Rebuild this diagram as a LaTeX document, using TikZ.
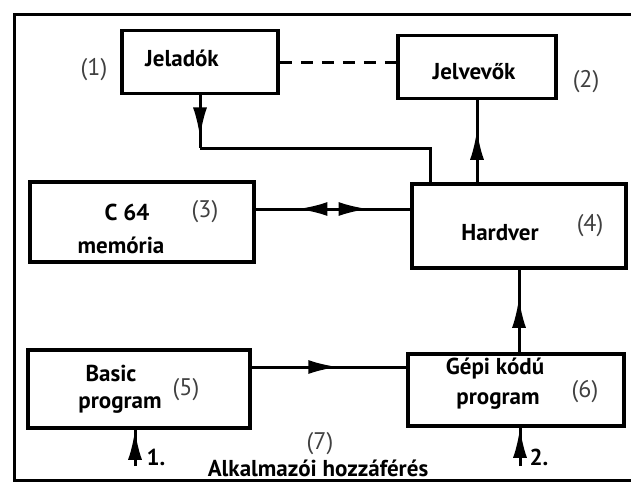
\documentclass[tikz,border=0pt]{standalone}
\usepackage{fontspec}
\setmainfont{PT Sans}
\usetikzlibrary{arrows.meta}
\usetikzlibrary{decorations.markings}
\usetikzlibrary{positioning}
\tikzset{->-/.style = {decoration={markings,
                                   mark=at position #1 with {\arrow{Latex[length=30pt,width=14pt]}}},
                       postaction={decorate}}}
\tikzset{block/.style = {draw, line width=3.6pt, inner sep=0pt},
         txt/.style = {font=\fontsize{23}{26}\selectfont\bfseries},
         num/.style = {font=\fontsize{24}{26}\selectfont, text=black!75}}

\begin{document}
\begin{tikzpicture}[x=1pt, y=-1pt, line width=3pt]
    \useasboundingbox (0,0) rectangle (631,493);
    \draw (631,14) -- (14,14) -- (14,480) -- (631,480);
    % blocks
    \node [block, minimum width=156pt, minimum height=63pt] (jeladok) at (200,62) {};
    \node [block, minimum width=158pt, minimum height=63pt] (jelvevok) at (477,67) {};
    \node [block, minimum width=224pt, minimum height=80pt] (memoria) at (142,222) {};
    \node [block, minimum width=214pt, minimum height=84pt] (hardver) at (519,226) {};
    \node [block, minimum width=222pt, minimum height=78pt] (basic) at (139,389) {};
    \node [block, minimum width=216pt, minimum height=72pt] (gepi) at (516,390) {};
    % texts
    \node [txt] (jeladok-t) at (182,58) {Jeladók};
    \node [num] (n1) at (94,70) {(1)};
    \node [txt] (jelvevok-t) at (474,72) {Jelvevők};
    \node [num] (n2) at (586,82) {(2)};
    \node [txt] (c64-t) at (127,212) {C 64};
    \node [num] (n3) at (205,212) {(3)};
    \node [txt] (memoria-t) at (121,245) {memória};
    \node [txt] (hardver-t) at (500,233) {Hardver};
    \node [num] (n4) at (590,226) {(4)};
    \node [txt] (basic-t) at (111,373) {Basic};
    \node [txt] (basic-p) at (120,405) {program};
    \node [num] (n5) at (186,390) {(5)};
    \node [txt] (gepi-t) at (495,369) {Gépi kódú};
    \node [txt] (gepi-p) at (498,401) {program};
    \node [num] (n6) at (585,392) {(6)};
    \node [num] (n7) at (320,444) {(7)};
    \node [txt] (access) at (318,468) {Alkalmazói hozzáférés};
    \node [txt] (k1) at (156,457) {1.};
    \node [txt] (k2) at (539,457) {2.};
    % connectors
    \coordinate (bend) at (200,148);
    \coordinate (hw-in) at (430,148);
    \coordinate (in1) at (135,466);
    \coordinate (in2) at (520,466);
    \draw [dashed, dash pattern=on 12pt off 9pt] (jeladok.east) -- (jeladok.east -| jelvevok.west);
    \draw [->-=0.8] (jeladok.south) -- (bend);
    \draw (bend) -- (hw-in) -- (hw-in |- hardver.north);
    \draw [->-=0.64] (jelvevok.south |- hardver.north) -- (jelvevok.south);
    \draw [->-=0.73] ([yshift=17pt]hardver.west) -- ([yshift=17pt]hardver.west -| memoria.east);
    \draw [->-=0.73] ([yshift=17pt]hardver.west -| memoria.east) -- ([yshift=17pt]hardver.west);
    \draw [->-=0.66] (hardver.south |- gepi.north) -- (hardver.south);
    \draw [->-=0.56] ([yshift=22pt]basic.east) -- ([yshift=22pt]basic.east -| gepi.west);
    \draw [->-=1] (in1) -- (in1 |- basic.south);
    \draw [->-=1] (in2) -- (in2 |- gepi.south);
\end{tikzpicture}
\end{document}
